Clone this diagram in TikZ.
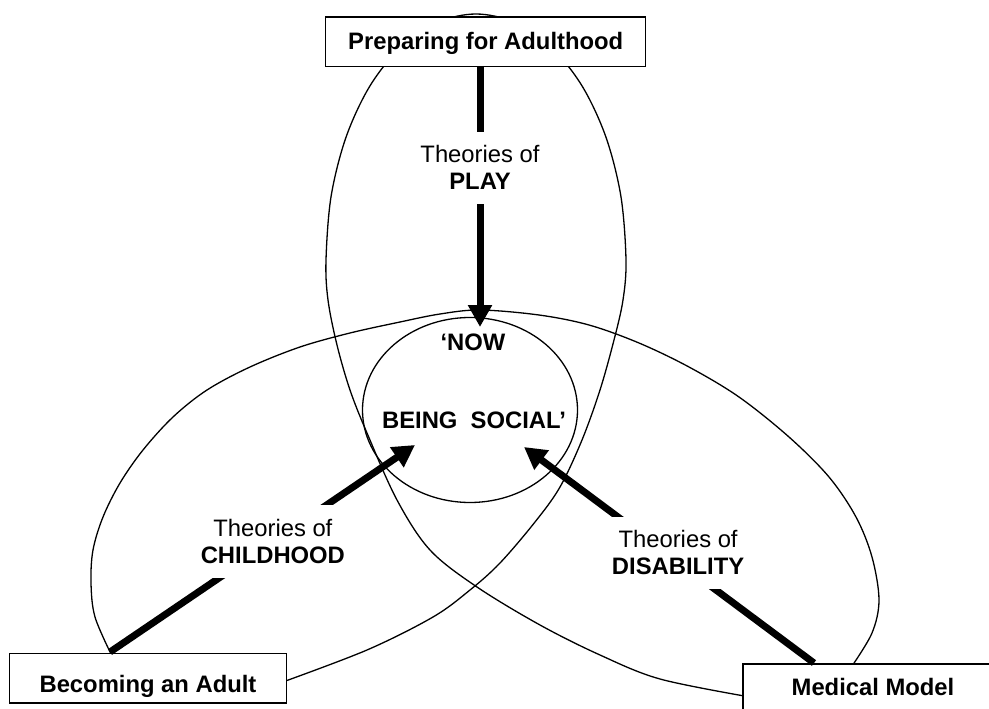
\documentclass[tikz,border=0pt]{standalone}
\usepackage{fontspec}
\setmainfont{Liberation Sans}
\usetikzlibrary{arrows.meta,shapes.geometric}
\begin{document}
\begin{tikzpicture}[x=1pt,y=-1pt,
	every node/.style={font=\fontsize{23.8pt}{27pt}\selectfont},
	frame node/.style={draw,fill=white,line width=1.4pt,inner sep=0pt,anchor=base,font=\fontsize{23.8pt}{27pt}\selectfont\bfseries},
	theory node/.style={fill=white,align=center,inner xsep=13pt,inner ysep=14pt},
	big arrow/.style={line width=7pt,-{Triangle[width=23pt,length=22pt]}},
	loop line/.style={line width=1.3pt,line join=round}]

	\useasboundingbox (0,0) rectangle (989,709);

	% the three loops
	\draw[loop line] plot[smooth,tension=0.55] coordinates {(280,683) (367,650) (433,617) (470,590) (500,563) (535,522) (560,487) (582,440) (600,390) (614,340) (623,300) (626,260) (620.9,196.3) (605.9,137) (582.1,86) (551,47) (514.8,22.4) (476,14) (437.2,22.4) (401,47) (369.9,86) (346.1,137) (331.1,196.3) (326,260) (328,300) (337,345) (350,390) (367,433) (397,500) (430,550) (477,587) (540,625) (600,655) (660,679) (750,697)};
	\draw[loop line] plot[smooth,tension=0.55] coordinates {(112,656) (95,617) (91,583) (93,550) (103,517) (120,483) (143,450) (173,417) (207,390) (250,367) (300,347) (350,333) (400,322) (440,314) (480,310) (539,315) (589,325) (639,343) (689,367) (739,397) (789,437) (829,477) (856,517) (872,557) (879,600) (872,633) (852,666)};

	\node[draw,ellipse,line width=1.3pt,minimum width=215pt,minimum height=185pt,inner sep=0pt] (hub) at (470,410) {};
	\node[anchor=base,font=\fontsize{23.8pt}{27pt}\selectfont\bfseries] (now) at (473,350) {‘NOW};
	\node[anchor=base,font=\fontsize{23.8pt}{27pt}\selectfont\bfseries] (social) at (474,428) {BEING\ \ SOCIAL’};

	\node[frame node,minimum width=320pt,text height=33pt,text depth=16.5pt] (prep) at (485.7,50) {Preparing for Adulthood};
	\node[frame node,minimum width=277.4pt,text height=39.4pt,text depth=10.3pt] (adult) at (148,692.7) {Becoming an Adult};
	\node[frame node,minimum width=260pt,text height=31pt,text depth=19pt] (medical) at (873,695) {Medical Model};

	\coordinate (play foot) at (480,66);
	\coordinate (play tip) at (480,327);
	\coordinate (child foot) at (110,652);
	\coordinate (child tip) at (415,445);
	\coordinate (dis foot) at (814,663);
	\coordinate (dis tip) at (524,447);

	\draw[big arrow] (play foot) -- node[theory node,pos=0.39] (play) {Theories of\\\textbf{PLAY}} (play tip);
	\draw[big arrow] (child foot) -- node[theory node,pos=0.534] (child) {Theories of\\\textbf{CHILDHOOD}} (child tip);
	\draw[big arrow] (dis foot) -- node[theory node,pos=0.51,xshift=12pt] (dis) {Theories of\\\textbf{DISABILITY}} (dis tip);

\end{tikzpicture}
\end{document}
